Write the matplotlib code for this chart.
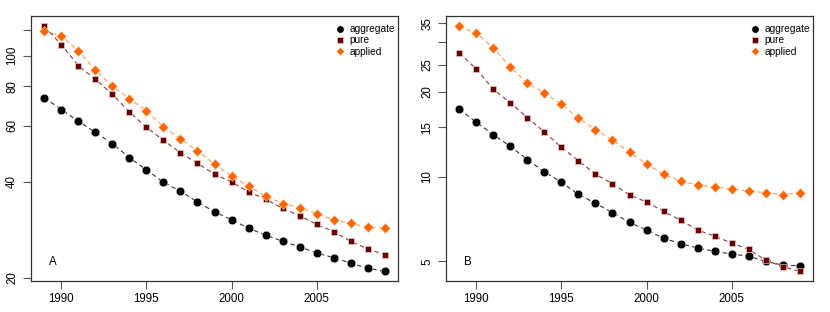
import matplotlib
matplotlib.use("Agg")
import matplotlib.pyplot as plt
from matplotlib.ticker import FixedLocator, FixedFormatter, NullLocator

plt.rcParams['font.family'] = ['Liberation Sans', 'DejaVu Sans']

years = list(range(1989, 2010))

# panel A
agg_a = [73.7, 67.6, 62.1, 57.3, 52.8, 47.7, 43.7, 39.9, 37.4, 34.6, 32.2,
         30.4, 28.6, 27.2, 26.0, 25.0, 23.9, 23.1, 22.2, 21.4, 20.9]
pure_a = [123.6, 108.2, 92.9, 84.2, 75.5, 66.4, 59.4, 54.1, 49.4, 45.8, 42.3,
          40.0, 37.2, 35.3, 33.0, 31.3, 29.4, 27.9, 26.0, 24.6, 23.6]
appl_a = [119.2, 115.5, 103.4, 90.1, 80.0, 73.2, 66.9, 59.7, 54.6, 50.1, 45.5,
          41.8, 38.8, 36.1, 34.2, 33.2, 31.8, 30.4, 29.6, 28.8, 28.6]

# panel B
agg_b = [17.4, 15.6, 14.1, 12.8, 11.5, 10.4, 9.55, 8.65, 8.04, 7.45, 6.88,
         6.46, 6.05, 5.78, 5.58, 5.43, 5.31, 5.22, 5.0, 4.85, 4.82]
pure_b = [27.5, 24.1, 20.4, 18.3, 16.2, 14.4, 12.7, 11.4, 10.2, 9.44, 8.61,
          8.13, 7.53, 7.01, 6.46, 6.15, 5.81, 5.52, 5.05, 4.79, 4.61]
appl_b = [34.2, 32.3, 28.7, 24.5, 21.5, 19.8, 18.1, 16.1, 14.7, 13.5, 12.2,
          11.1, 10.2, 9.65, 9.34, 9.19, 9.04, 8.89, 8.77, 8.63, 8.77]

yticks_a = [20, 40, 60, 80, 100, 120]
ylabels_a = ['20', '40', '60', '80', '100', '']
yticks_b = [5, 10, 15, 20, 25, 30, 35]
ylabels_b = ['5', '10', '15', '20', '25', '', '35']
xticks = [1990, 1995, 2000, 2005]

c_agg = '#000000'
c_pure = '#660000'
c_appl = '#ff6600'

fig = plt.figure(figsize=(8.3, 3.12), dpi=100)
W, H = 830, 312
AW, AH = 367.6, 265


def panel(x0, data, ylim, yt, yl, tag):
    ax = fig.add_axes([(x0 + 30.7) / W, 1 - 281 / H, AW / W, AH / H])
    agg, pure, appl = data
    ax.plot(years, agg, ls=(0, (4, 3)), lw=0.8, color='#333333', marker='o',
            ms=6.2, mfc=c_agg, mec='white', mew=0.3, label='aggregate')
    ax.plot(years, pure, ls=(0, (4, 3)), lw=0.8, color='#8b3a3a', marker='s',
            ms=4.6, mfc=c_pure, mec='#e8c8c8', mew=0.5, label='pure')
    ax.plot(years, appl, ls=(0, (4, 3)), lw=0.8, color='#ff9955', marker='D',
            ms=4.6, mfc=c_appl, mec='#ffd0b0', mew=0.4, label='applied')
    ax.set_yscale('log')
    ax.set_xlim(1988.2, 2009.8)
    ax.set_ylim(*ylim)
    ax.yaxis.set_major_locator(FixedLocator(yt))
    ax.yaxis.set_major_formatter(FixedFormatter(yl))
    ax.yaxis.set_minor_locator(NullLocator())
    ax.set_xticks(xticks)
    ax.tick_params(axis='both', direction='out', length=6, width=0.8,
                   color='#555555', labelsize=8.3, pad=3)
    for lab in ax.get_yticklabels():
        lab.set_rotation(90)
        lab.set_va('center')
    for s in ax.spines.values():
        s.set_linewidth(0.9)
        s.set_color('#333333')
    ax.legend(loc='upper right', bbox_to_anchor=(1 - 1.5 / AW, 1 - 6.2 / AH),
              frameon=False, fontsize=7.3, handlelength=0.8,
              handletextpad=0.5, labelspacing=0.12, borderaxespad=0,
              markerscale=0.85, borderpad=0.2)
    for line in ax.get_legend().get_lines():
        line.set_linestyle('none')
    ax.text(0.06, 0.05, tag, transform=ax.transAxes, fontsize=8.3,
            ha='center', va='bottom')
    return ax


panel(0, (agg_a, pure_a, appl_a), (19.5, 133.2), yticks_a, ylabels_a, 'A')
panel(415, (agg_b, pure_b, appl_b), (4.26, 37.2), yticks_b, ylabels_b, 'B')

fig.savefig('out.png', dpi=100)
